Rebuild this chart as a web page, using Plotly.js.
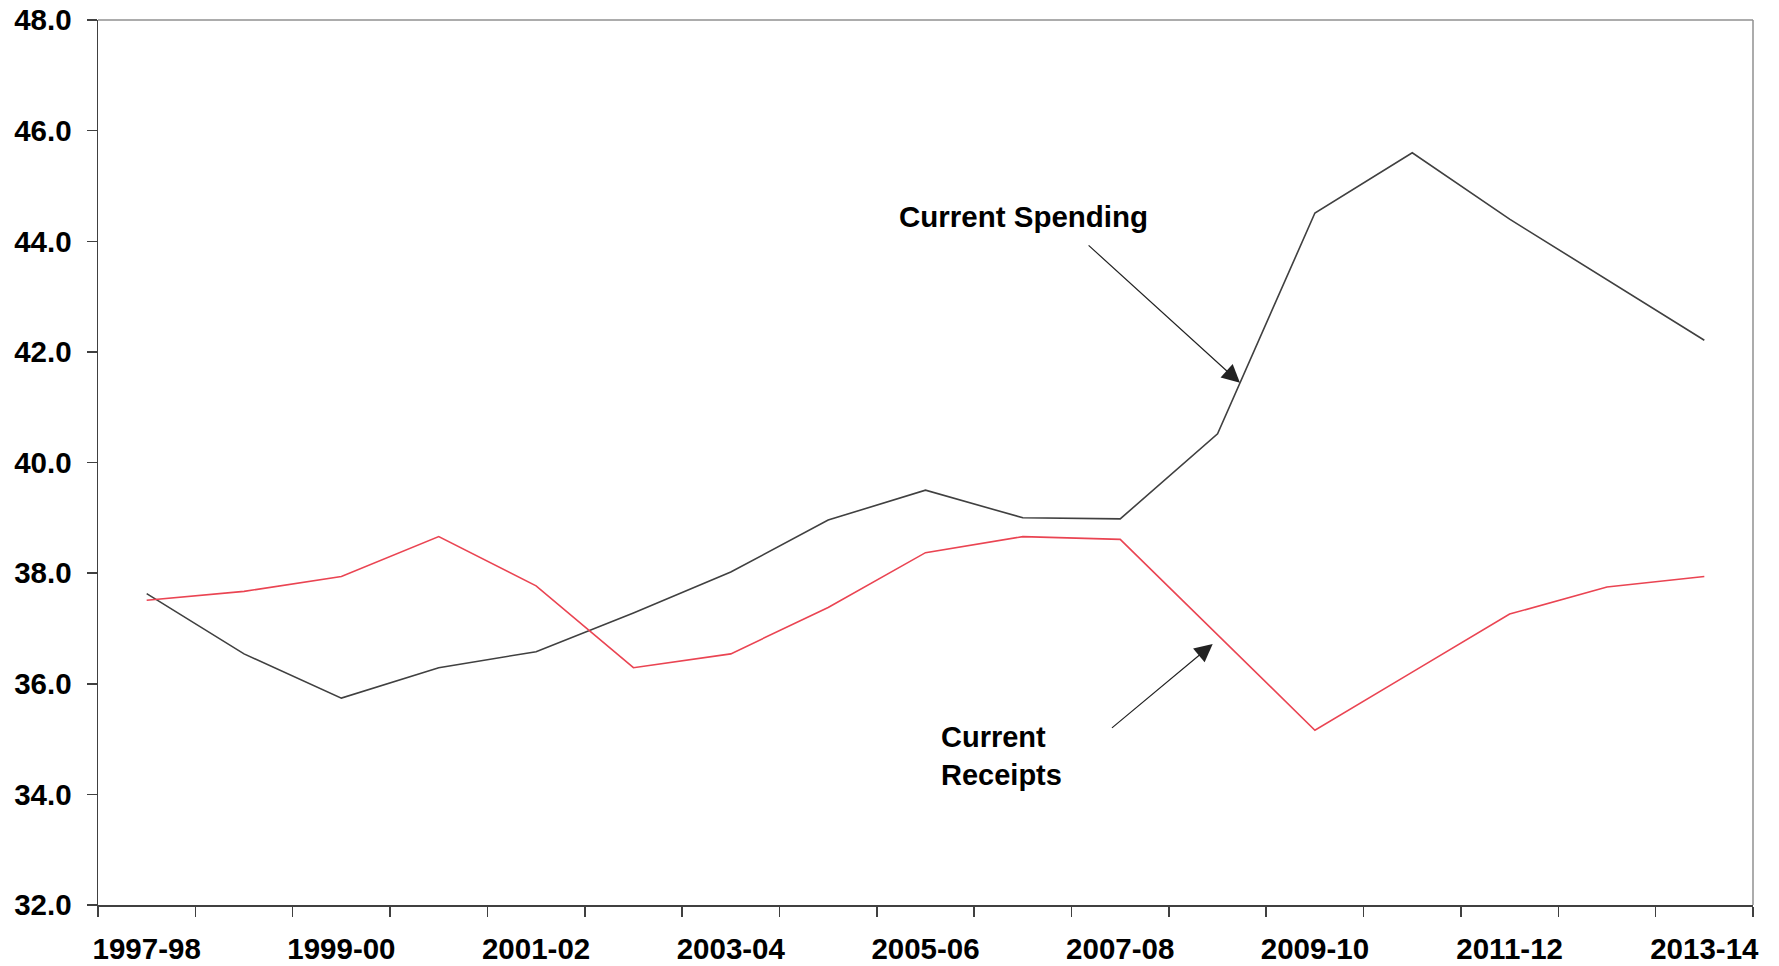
<!DOCTYPE html>
<html>
<head>
<meta charset="utf-8">
<script src="https://cdn.plot.ly/plotly-3.0.1.min.js"></script>
<style>html,body{margin:0;padding:0;background:#fff;}#chart{width:1779px;height:966px;}</style>
</head>
<body>
<div id="chart"></div>
<script>
const years = ["1997-98","1998-99","1999-00","2000-01","2001-02","2002-03","2003-04","2004-05","2005-06","2006-07","2007-08","2008-09","2009-10","2010-11","2011-12","2012-13","2013-14"];
const currentSpending = [37.63,36.54,35.74,36.29,36.58,37.28,38.02,38.96,39.50,39.00,38.98,40.52,44.51,45.60,44.40,43.30,42.21];
const currentReceipts = [37.51,37.67,37.94,38.66,37.77,36.29,36.54,37.38,38.37,38.66,38.61,36.89,35.16,36.21,37.26,37.75,37.94];
const yTicks = [32,34,36,38,40,42,44,46,48];

const idx = years.map((_, i) => i);
const labelIdx = idx.filter(i => i % 2 === 0);
const font = "Liberation Sans, Arial, sans-serif";

const traces = [
  {x: idx, y: currentSpending, type: "scatter", mode: "lines", name: "Current Spending",
   line: {color: "#404040", width: 1.6}, hoverinfo: "y"},
  {x: idx, y: currentReceipts, type: "scatter", mode: "lines", name: "Current Receipts",
   line: {color: "#ea4452", width: 1.6}, hoverinfo: "y"}
];

const layout = {
  width: 1779, height: 966,
  margin: {l: 98, r: 26, t: 20, b: 61},
  paper_bgcolor: "#ffffff", plot_bgcolor: "#ffffff",
  showlegend: false,
  font: {family: font, color: "#000"},
  xaxis: {
    range: [-0.5, years.length - 0.5],
    tickvals: labelIdx, ticktext: labelIdx.map(i => years[i]),
    ticks: "", showgrid: false, zeroline: false,
    showline: true, linecolor: "#404040", linewidth: 1.5,
    tickfont: {family: font, size: 29.5, color: "#000", weight: "bold"},
    ticklabelstandoff: 17,
    minor: {tick0: -0.5, dtick: 1, ticks: "outside", ticklen: 10, tickcolor: "#404040", tickwidth: 1.5, showgrid: false}
  },
  yaxis: {
    range: [32, 48], tickvals: yTicks, ticktext: yTicks.map(v => v.toFixed(1)),
    ticks: "outside", ticklen: 10, tickcolor: "#404040", tickwidth: 1.5,
    showgrid: false, zeroline: false,
    showline: true, linecolor: "#404040", linewidth: 1.5,
    tickfont: {family: font, size: 29.5, color: "#000", weight: "bold"},
    ticklabelstandoff: 9
  },
  shapes: [
    {type: "line", xref: "paper", yref: "paper", x0: 0, x1: 1, y0: 1, y1: 1, line: {color: "#909090", width: 1.5}},
    {type: "line", xref: "paper", yref: "paper", x0: 1, x1: 1, y0: 0, y1: 1, line: {color: "#909090", width: 1.5}}
  ],
  annotations: [
    {x: 7.71, y: 44.44, xref: "x", yref: "y", text: "<b>Current Spending</b>", showarrow: false,
     xanchor: "left", yanchor: "middle", font: {family: font, size: 29.5, color: "#000"}},
    {x: 8.14, y: 34.69, xref: "x", yref: "y", text: "<b>Current<br>Receipts</b>", showarrow: false,
     xanchor: "left", yanchor: "middle", align: "left", font: {family: font, size: 29, color: "#000"}},
    {x: 11.23, y: 41.44, ax: 9.66, ay: 43.95, xref: "x", yref: "y", axref: "x", ayref: "y",
     text: "", showarrow: true, arrowhead: 2, arrowsize: 3, arrowwidth: 1.2, arrowcolor: "#222", standoff: 0, startstandoff: 0},
    {x: 10.95, y: 36.72, ax: 9.90, ay: 35.18, xref: "x", yref: "y", axref: "x", ayref: "y",
     text: "", showarrow: true, arrowhead: 2, arrowsize: 3, arrowwidth: 1.2, arrowcolor: "#222", standoff: 0, startstandoff: 0}
  ]
};

Plotly.newPlot("chart", traces, layout, {displayModeBar: false, staticPlot: true});
</script>
</body>
</html>
